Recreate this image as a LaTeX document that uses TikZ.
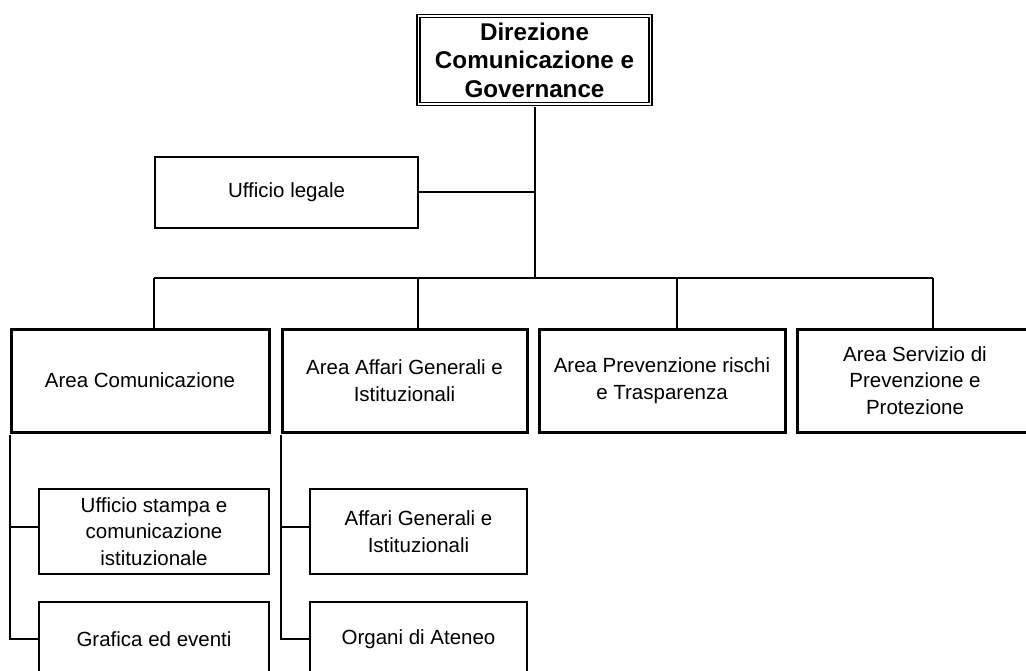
\documentclass[tikz,border=0pt]{standalone}
\usepackage{fontspec}
\setmainfont{Liberation Sans}
\begin{document}
\begin{tikzpicture}[x=1pt,y=-1pt,
  every node/.style={inner sep=0pt, align=center, font=\fontsize{20.5}{26.5}\selectfont},
  head/.style={draw, line width=1.7pt, double, double distance=1.5pt,
    minimum width=232pt, minimum height=88pt, font=\bfseries\fontsize{24.2}{28.5}\selectfont},
  areabox/.style={draw, line width=3pt, minimum height=103pt},
  unitbox/.style={draw, line width=2.2pt},
  link/.style={line width=2pt}]
\useasboundingbox (0,0) rectangle (1026,671);

% top of the chart
\node[head] (dir) at (534.5,60) {Direzione\\Comunicazione e\\Governance};
\node[unitbox, minimum width=263pt, minimum height=71pt] (legale) at (286.5,192.5) {Ufficio legale};

% areas
\node[areabox, minimum width=258pt] (acom) at (140,380.5) {Area Comunicazione};
\node[areabox, minimum width=245pt] (aaff) at (404.5,380.5) {Area Affari Generali e\\Istituzionali};
\node[areabox, minimum width=246pt] (aprev) at (662,380.5) {Area Prevenzione rischi\\e Trasparenza};
\node[areabox, minimum width=236pt] (aserv) at (915,380.5) {Area Servizio di\\Prevenzione e\\Protezione};

% offices
\node[unitbox, minimum width=230pt, minimum height=85pt] (stampa) at (154,531.5) {Ufficio stampa e\\comunicazione\\istituzionale};
\node[unitbox, minimum width=230pt, minimum height=74pt] (grafica) at (154,639) {Grafica ed eventi};
\node[unitbox, minimum width=217pt, minimum height=85pt] (affgen) at (418.5,531.5) {Affari Generali e\\Istituzionali};
\node[unitbox, minimum width=217pt, minimum height=74pt] (organi) at (418.5,639) {Organi di Ateneo};

% connectors
\coordinate (hub) at (534.5,278);
\coordinate (d1) at ([xshift=14pt]acom.north);
\coordinate (d2) at ([xshift=13.5pt]aaff.north);
\coordinate (d3) at ([xshift=15pt]aprev.north);
\coordinate (d4) at ([xshift=18pt]aserv.north);

\draw[link] ([yshift=-2.4pt]dir.south) -- (hub);
\draw[link] (legale.east) -- (legale.east -| hub);
\draw[link] (d1 |- hub) -- (d4 |- hub);
\foreach \d in {d1,d2,d3,d4} \draw[link] (\d |- hub) -- (\d);

\coordinate (sA) at ([xshift=0.5pt,yshift=-1.5pt]acom.south west);
\coordinate (sB) at ([xshift=0.5pt,yshift=-1.5pt]aaff.south west);
\draw[link] (sA) |- (grafica.west);
\draw[link] (sA |- stampa.west) ++(0,-4.5) -- ([yshift=4.5pt]stampa.west);
\draw[link] (sB) |- (organi.west);
\draw[link] (sB |- affgen.west) ++(0,-4.5) -- ([yshift=4.5pt]affgen.west);
\end{tikzpicture}
\end{document}
